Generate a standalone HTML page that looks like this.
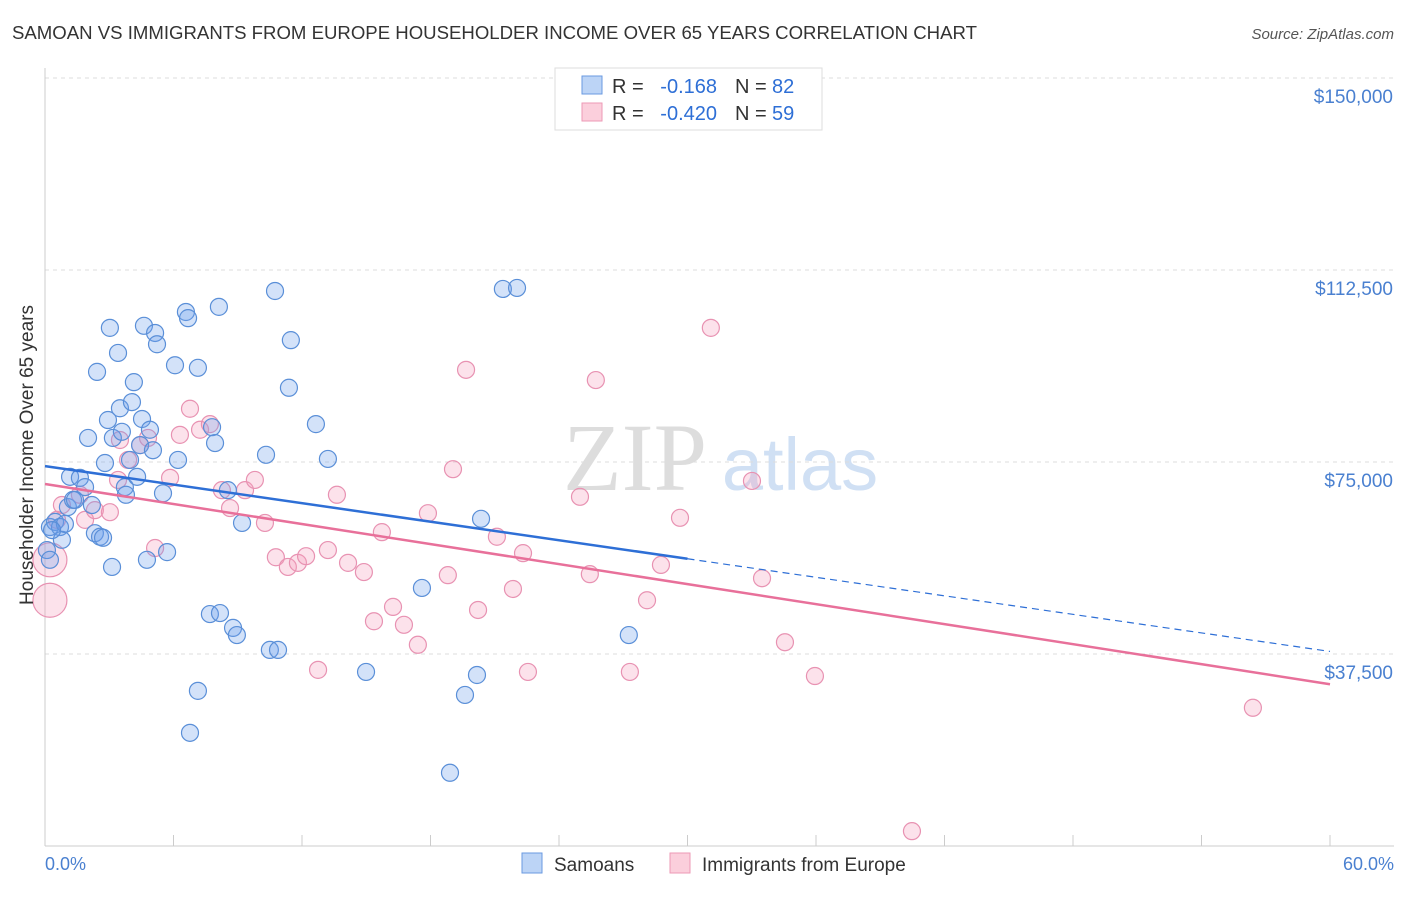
<!DOCTYPE html>
<html><head><meta charset="utf-8">
<style>
body{margin:0;background:#fff;font-family:"Liberation Sans",sans-serif;}
svg text{font-family:"Liberation Sans",sans-serif;}
</style></head>
<body>
<svg id="chart" width="1406" height="892" viewBox="0 0 1406 892" xmlns="http://www.w3.org/2000/svg">
<text x="12" y="39" font-size="18.6" fill="#333">SAMOAN VS IMMIGRANTS FROM EUROPE HOUSEHOLDER INCOME OVER 65 YEARS CORRELATION CHART</text>
<text x="1394" y="39" font-size="15" fill="#555" text-anchor="end" font-style="italic">Source: ZipAtlas.com</text>
<g>
<text x="635" y="490" font-size="96" fill="#ddd" text-anchor="middle" style="font-family:'Liberation Serif',serif">ZIP</text>
<text x="800" y="490" font-size="74" fill="#d0e0f4" text-anchor="middle">atlas</text>
</g>
<g id="grid"></g>
<g id="axes"></g>
<g id="pts"></g>
<g id="lines"></g>
<text x="33" y="455" font-size="19" fill="#333" text-anchor="middle" transform="rotate(-90 33 455)">Householder Income Over 65 years</text>
<text x="45" y="870" font-size="18" fill="#4a80d0">0.0%</text>
<text x="1394" y="870" font-size="18" fill="#4a80d0" text-anchor="end">60.0%</text>
<g>
<rect x="555" y="68" width="267" height="62" fill="#fff" stroke="#ddd"/>
<rect x="582" y="76" width="20" height="18" fill="#bcd4f6" stroke="#6a9ae0"/>
<rect x="582" y="103" width="20" height="18" fill="#fbcfdc" stroke="#ec9ab6"/>
<text x="612" y="93" font-size="20" fill="#333">R =</text>
<text x="717" y="93" font-size="20" fill="#2e6fd6" text-anchor="end">-0.168</text>
<text x="735" y="93" font-size="20" fill="#333">N =</text>
<text x="772" y="93" font-size="20" fill="#2e6fd6">82</text>
<text x="612" y="120" font-size="20" fill="#333">R =</text>
<text x="717" y="120" font-size="20" fill="#2e6fd6" text-anchor="end">-0.420</text>
<text x="735" y="120" font-size="20" fill="#333">N =</text>
<text x="772" y="120" font-size="20" fill="#2e6fd6">59</text>
</g>
<g>
<rect x="522" y="853" width="20" height="20" fill="#bcd4f6" stroke="#6a9ae0"/>
<text x="554" y="871" font-size="19" fill="#333">Samoans</text>
<rect x="670" y="853" width="20" height="20" fill="#fbcfdc" stroke="#ec9ab6"/>
<text x="702" y="871" font-size="19" fill="#333">Immigrants from Europe</text>
</g>
</svg>
<script>
const yTicks=[37500,75000,112500,150000];
const yTickLabels=["$37,500","$75,000","$112,500","$150,000"];
const xTicks=[0,6,12,18,24,30,36,42,48,54,60];
const blueX=[0.23,0.47,0.70,0.79,0.93,1.07,1.17,1.31,1.40,1.63,1.87,2.01,2.19,2.33,2.43,2.57,2.71,2.80,2.94,3.03,3.13,3.17,3.41,3.50,3.59,3.73,3.78,3.97,4.06,4.15,4.30,4.44,4.53,4.62,4.76,4.90,5.04,5.14,5.23,5.51,5.70,6.07,6.21,6.58,6.68,7.14,7.14,6.77,7.70,7.80,7.94,8.17,8.12,8.54,8.78,8.96,9.20,10.32,10.50,10.74,10.88,11.39,11.48,12.65,13.21,14.99,17.60,18.91,19.61,20.17,20.36,21.38,22.04,27.26,0.09,0.23,0.33];
const blueY=[62.3,63.3,62.3,59.8,62.9,66.2,72.1,67.6,67.6,71.9,70.1,79.7,66.6,61.1,92.6,60.4,60.2,74.8,83.2,101.2,54.5,79.7,96.3,85.5,80.9,70.1,68.6,75.4,86.7,90.6,72.1,78.3,83.4,101.6,55.9,81.3,77.3,100.2,98.0,68.9,57.4,93.9,75.4,104.3,103.1,93.4,30.3,22.1,45.3,81.8,78.7,45.5,105.3,69.5,42.6,41.2,63.1,76.4,38.3,108.4,38.3,89.5,98.8,82.4,75.6,34.0,50.4,14.3,29.5,33.4,63.9,108.8,109.0,41.2,57.8,55.9,61.7];
const pinkX=[0.23,0.23,0.56,0.79,1.63,1.87,2.33,3.03,3.41,3.50,3.88,4.44,4.81,5.14,5.84,6.30,6.77,7.24,7.70,8.26,8.64,9.34,9.80,10.27,10.78,11.34,11.81,12.19,12.75,13.21,13.63,14.15,14.89,15.36,15.73,16.25,16.76,17.41,17.88,18.81,19.05,19.66,20.22,21.10,21.85,22.32,22.55,24.98,25.44,25.72,27.31,28.11,28.76,29.65,31.09,33.01,33.48,34.55,35.95,40.48,56.40];
const pinkY=[55.9,48.0,63.7,66.6,68.6,63.7,65.6,65.2,71.5,79.3,75.4,78.3,79.7,58.2,71.9,80.3,85.4,81.3,82.4,69.5,66.0,69.5,71.5,63.1,56.4,54.5,55.3,56.6,34.4,57.8,68.6,55.3,53.5,43.9,61.3,46.7,43.2,39.3,65.0,52.9,73.6,93.0,46.1,60.4,50.2,57.2,34.0,68.2,53.1,91.0,34.0,48.0,54.9,64.1,101.2,71.3,52.3,39.8,33.2,2.9,27.0];
const blueTrend=[74.2,38.0];
const pinkTrend=[70.7,31.6];
const NS='http://www.w3.org/2000/svg';
const xs=v=>45+v*(1285/60);
const ys=v=>846-v*(192/37500);
const yk=v=>ys(v*1000);
function mk(t,a,p){const e=document.createElementNS(NS,t);for(const k in a)e.setAttribute(k,a[k]);p.appendChild(e);return e;}
const gridG=document.getElementById('grid'),axesG=document.getElementById('axes'),ptsG=document.getElementById('pts'),linesG=document.getElementById('lines');
yTicks.forEach((t,i)=>{
 const l=mk('line',{x1:45,x2:1394,y1:ys(t),y2:ys(t),stroke:'#ddd','stroke-dasharray':'4,4'},gridG);
 
 
 const tx=mk('text',{x:1393,y:ys(t)+25,'font-size':19,fill:'#4a80d0','text-anchor':'end'},axesG);
 tx.textContent=yTickLabels[i];
 
 
});
mk('line',{x1:45,x2:45,y1:68,y2:846,stroke:'#ccc'},axesG);
mk('line',{x1:45,x2:1394,y1:846,y2:846,stroke:'#ccc'},axesG);
xTicks.forEach(t=>{
 const l=mk('line',{x1:xs(t),x2:xs(t),y1:835,y2:846,stroke:'#ccc'},axesG);
 
 
});
function dots(X,Y,fill,stroke,name,bigOk){
 X.forEach((x,i)=>{
  const big=(bigOk&&x<0.3&&(Y[i]<58.5&&Y[i]>47))?17:8.5;
  const c=mk('circle',{cx:xs(x),cy:yk(Y[i]),r:big,fill:fill,stroke:stroke,'stroke-width':1.2},ptsG);
  
  
 });
}
dots(pinkX,pinkY,'rgba(244,160,190,0.3)','#e892b2','pink-point',true);
dots(blueX,blueY,'rgba(110,160,235,0.3)','#5a8fd8','blue-point',false);
const bm=blueTrend[0]+(blueTrend[1]-blueTrend[0])*0.5;
const l1=mk('line',{x1:xs(0),y1:yk(blueTrend[0]),x2:xs(30),y2:yk(bm),stroke:'#2e6fd6','stroke-width':2.5},linesG);


const l2=mk('line',{x1:xs(30),y1:yk(bm),x2:xs(60),y2:yk(blueTrend[1]),stroke:'#2e6fd6','stroke-width':1.2,'stroke-dasharray':'7,5'},linesG);


const l3=mk('line',{x1:xs(0),y1:yk(pinkTrend[0]),x2:xs(60),y2:yk(pinkTrend[1]),stroke:'#e8709a','stroke-width':2.5},linesG);


</script>
</body></html>
